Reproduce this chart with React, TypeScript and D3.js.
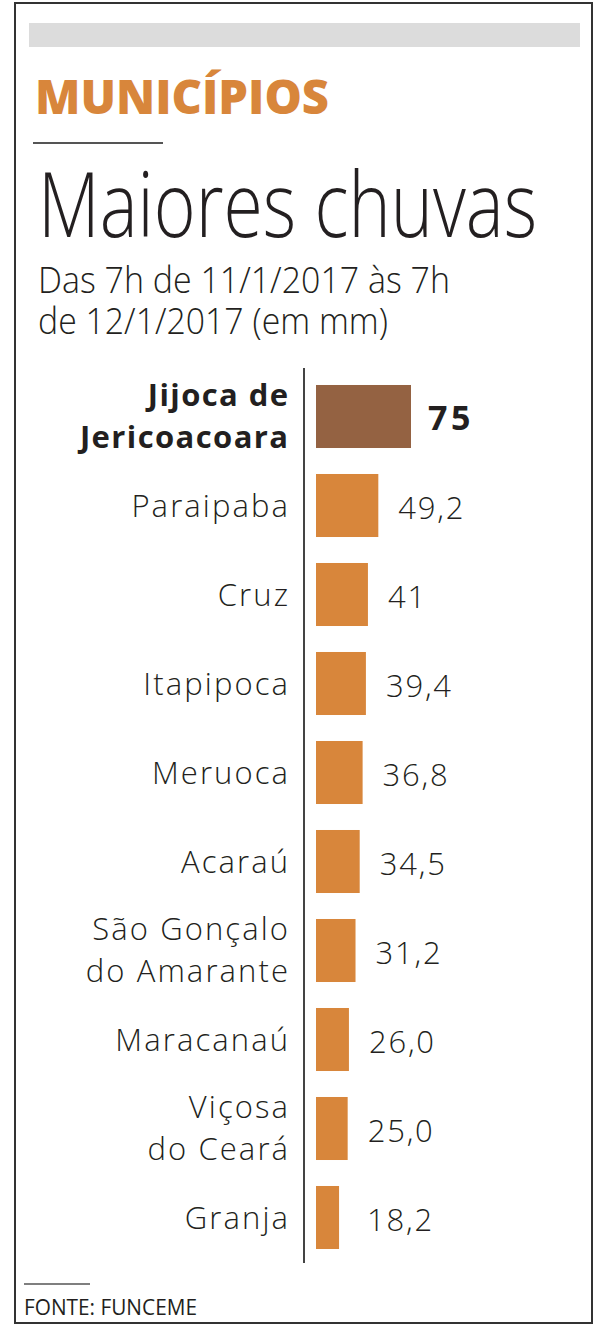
import React, { useLayoutEffect, useRef, useState } from "react";
import * as d3 from "d3";

const categories: string[][] = [
  ["Jijoca de", "Jericoacoara"],
  ["Paraipaba"],
  ["Cruz"],
  ["Itapipoca"],
  ["Meruoca"],
  ["Acaraú"],
  ["São Gonçalo", "do Amarante"],
  ["Maracanaú"],
  ["Viçosa", "do Ceará"],
  ["Granja"],
];
const values: number[] = [75, 49.2, 41, 39.4, 36.8, 34.5, 31.2, 26.0, 25.0, 18.2];
const valueLabels: string[] = ["75", "49,2", "41", "39,4", "36,8", "34,5", "31,2", "26,0", "25,0", "18,2"];
const highlight: boolean[] = [true, false, false, false, false, false, false, false, false, false];

const kicker = "MUNICÍPIOS";
const title = "Maiores chuvas";
const subtitle = ["Das 7h de 11/1/2017 às 7h", "de 12/1/2017 (em mm)"];
const source = "FONTE: FUNCEME";

const W = 600;
const H = 1330;
const FONT = "'Open Sans', 'Noto Sans', sans-serif";
const ORANGE = "#d8863b";
const BROWN = "#946242";
const INK = "#231f20";

type FitProps = {
  x: number; y: number; width: number; size: number; weight: number; fill: string; children: string;
};

function FitText({ x, y, width, size, weight, fill, children }: FitProps) {
  const ref = useRef<SVGTextElement>(null);
  const [k, setK] = useState(1);
  useLayoutEffect(() => {
    if (ref.current) {
      const w = ref.current.getComputedTextLength();
      if (w > 0) setK(width / w);
    }
  }, [width, children]);
  return (
    <text ref={ref} transform={`translate(${x},${y}) scale(${k},1)`} fontFamily={FONT}
      fontWeight={weight} fontSize={size} fill={fill}>{children}</text>
  );
}

export default function App() {
  const ids = categories.map((_, i) => String(i));
  const y = d3.scaleBand<string>().domain(ids).range([372, 1262]).paddingInner(0.292).paddingOuter(0.146);
  const x = d3.scaleLinear().domain([0, 75]).range([316, 411]);
  const labelX = 288;

  return (
    <svg width={W} height={H} style={{ position: "absolute", left: 0, top: 0, background: "#fff" }}>
      <rect x={15} y={3} width={577} height={1320} fill="#fff" stroke="#333" strokeWidth={2} />
      <rect x={29} y={23} width={551} height={24} fill="#dcdcdc" />
      <FitText x={35} y={114} width={294} size={47} weight={800} fill={ORANGE}>{kicker}</FitText>
      <line x1={33} x2={163} y1={143} y2={143} stroke="#555" strokeWidth={2} />
      <FitText x={38} y={237} width={499} size={90} weight={300} fill={INK}>{title}</FitText>
      <FitText x={38} y={293} width={412} size={37} weight={300} fill={INK}>{subtitle[0]}</FitText>
      <FitText x={38} y={334} width={350} size={37} weight={300} fill={INK}>{subtitle[1]}</FitText>

      <line x1={304} x2={304} y1={368} y2={1263} stroke="#444" strokeWidth={2} />

      {categories.map((lines, i) => {
        const id = ids[i];
        const top = y(id)!;
        const bw = y.bandwidth();
        const cy = top + bw / 2;
        const bold = highlight[i];
        const x1 = x(values[i]);
        const vx = Math.max(x1 + (bold ? 17 : 20), 367);
        const ls = bold ? 1.4 : 2.1;
        return (
          <g key={id}>
            <rect x={x(0)} y={top} width={x1 - x(0)} height={bw} fill={bold ? BROWN : ORANGE} />
            {lines.map((ln, j) => (
              <text key={j} x={labelX + ls} textAnchor="end"
                y={lines.length === 1 ? cy + 11 : cy - 11 + j * 42}
                fontFamily={FONT} fontWeight={bold ? 700 : 300} fontSize={31} letterSpacing={ls}
                fill={INK}>{ln}</text>
            ))}
            <text x={vx} y={cy + 13} fontFamily={FONT} fontWeight={bold ? 700 : 300}
              fontSize={bold ? 34 : 31} letterSpacing={bold ? 3.5 : 1.8} fill={INK}>{valueLabels[i]}</text>
          </g>
        );
      })}

      <line x1={24} x2={90} y1={1284} y2={1284} stroke="#555" strokeWidth={1.5} />
      <FitText x={24} y={1315} width={173} size={22} weight={400} fill={INK}>{source}</FitText>
    </svg>
  );
}
